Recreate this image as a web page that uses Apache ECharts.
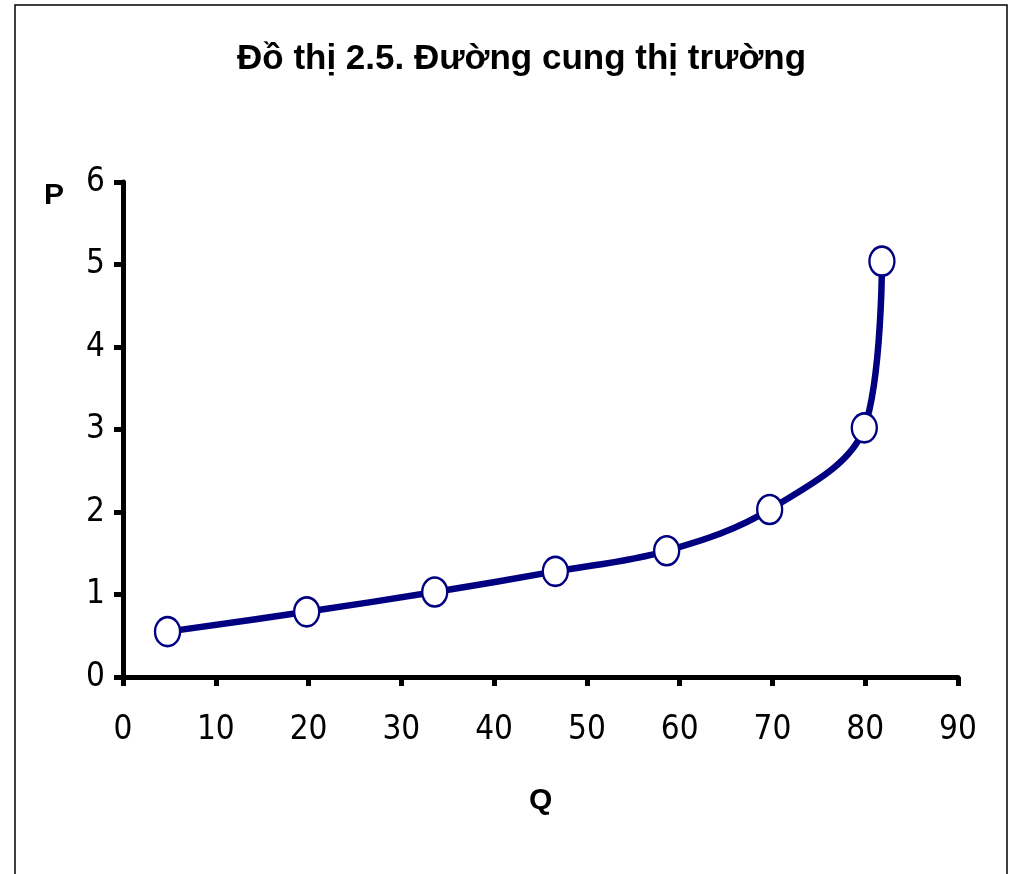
<!DOCTYPE html>
<html><head><meta charset="utf-8">
<script src="https://cdn.jsdelivr.net/npm/echarts@6/dist/echarts.min.js"></script>
<style>html,body{margin:0;padding:0;background:#fff}#c{width:1009px;height:874px}</style>
</head><body><div id="c"></div>
<script>
const titleText = "Đồ thị 2.5. Đường cung thị trường";
const xName = "Q";
const yName = "P";
const qValues = [4.8, 19.8, 33.6, 46.6, 58.6, 69.7, 79.9, 81.8];
const pValues = [0.55, 0.79, 1.03, 1.28, 1.53, 2.03, 3.02, 5.04];
const xTicks = [0, 10, 20, 30, 40, 50, 60, 70, 80, 90];
const yTicks = [0, 1, 2, 3, 4, 5, 6];

const narrow = '"Liberation Sans Narrow", "Arial Narrow", "DejaVu Sans Condensed", sans-serif';
const chart = echarts.init(document.getElementById('c'), null, {renderer: 'canvas'});
const data = qValues.map((q, i) => [q, pValues[i]]);
chart.setOption({
  backgroundColor: '#fff',
  animation: false,
  graphic: [
    {type: 'rect', shape: {x: 15, y: 5, width: 992, height: 900}, style: {fill: null, stroke: '#000', lineWidth: 1.5}, silent: true},
    {type: 'text', x: 237, y: 42,
     style: {text: titleText, font: 'bold 35px "Liberation Sans", Arial, sans-serif', fill: '#000'}},
    {type: 'text', left: 44, top: 181, style: {text: yName, font: 'bold 30px "Liberation Sans", Arial, sans-serif', fill: '#000'}},
    {type: 'text', left: 529, top: 786, style: {text: xName, font: 'bold 30px "Liberation Sans", Arial, sans-serif', fill: '#000'}}
  ],
  grid: {left: 123, right: 51, top: 182, bottom: 197},
  xAxis: {
    type: 'value', min: xTicks[0], max: xTicks[xTicks.length - 1], interval: 10,
    axisLine: {lineStyle: {color: '#000', width: 5}},
    axisTick: {length: 9, lineStyle: {color: '#000', width: 5}},
    splitLine: {show: false},
    axisLabel: {margin: 37, fontFamily: narrow, fontSize: 33, color: '#000'}
  },
  yAxis: {
    type: 'value', min: yTicks[0], max: yTicks[yTicks.length - 1], interval: 1,
    axisLine: {lineStyle: {color: '#000', width: 5}},
    axisTick: {length: 9, lineStyle: {color: '#000', width: 5}},
    splitLine: {show: false},
    axisLabel: {margin: 18, fontFamily: narrow, fontSize: 33, color: '#000'}
  },
  series: [{
    type: 'line', data: data, smooth: 0.35,
    lineStyle: {color: '#000080', width: 6.5},
    symbol: 'circle', symbolSize: [25, 29], showAllSymbol: true,
    itemStyle: {color: '#fff', borderColor: '#000080', borderWidth: 2.5}
  }]
});
</script></body></html>
